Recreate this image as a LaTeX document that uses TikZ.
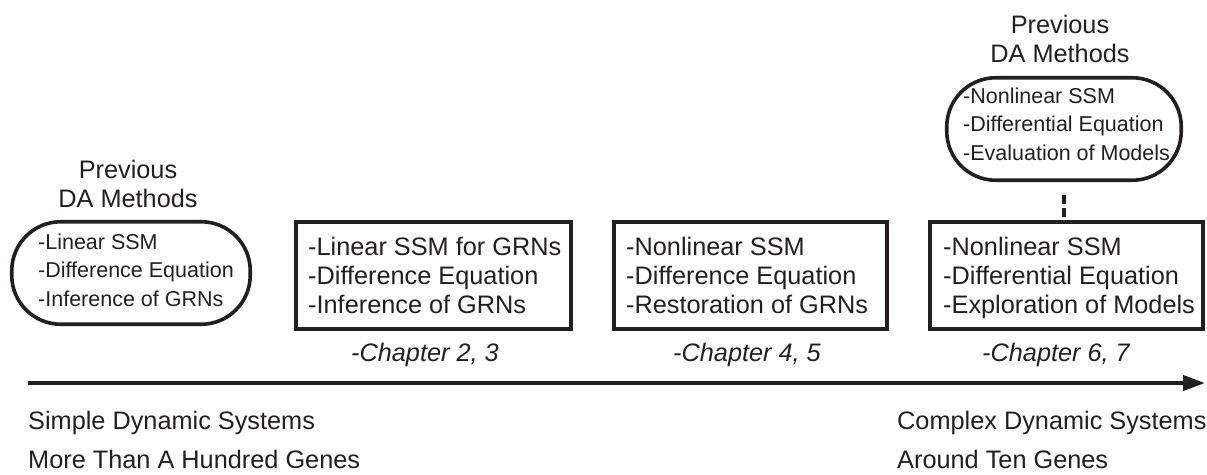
\documentclass[tikz,border=0pt]{standalone}
\usepackage{fontspec}
\setmainfont{Liberation Sans}
\usetikzlibrary{arrows.meta}
\definecolor{ink}{RGB}{35,31,32}
% multi-line block whose reference point is the first baseline
\newcommand\rows[2][l]{\begin{tabular}[t]{@{}#1@{}}#2\end{tabular}}
\tikzset{
  x=1pt, y=-1pt,
  every node/.style={text=ink},
  stepbox/.style={draw=ink, line width=3.6pt, minimum height=107.5pt, inner sep=0pt},
  pillbox/.style={draw=ink, line width=3.6pt, rounded corners=49pt,
                  minimum width=235pt, minimum height=102.5pt, inner sep=0pt},
  bigtext/.style={font=\fontsize{25.3}{29}\selectfont, inner sep=0pt},
  smalltext/.style={font=\fontsize{21.5}{28.5}\selectfont, inner sep=0pt},
  chaptext/.style={font=\fontsize{25.3}{29}\selectfont\itshape, inner sep=0pt, anchor=base},
  axis/.style={draw=ink, line width=4pt, -{Triangle[length=22pt,width=15pt]}},
  linkline/.style={draw=ink, line width=4.5pt,
                   dash pattern=on 0pt off 13pt on 8.5pt off 4.5pt on 8.5pt off 10pt},
}
\begin{document}
\begin{tikzpicture}
\useasboundingbox (0,0) rectangle (1207,474);

% earlier methods (left)
\node[bigtext, anchor=base] (prevA) at (128,178) {\rows[c]{Previous\\DA Methods}};
\node[pillbox, minimum width=238.5pt] (pa) at (131,273) {};
\node[smalltext, anchor=base west] (paT) at (38,249)
  {\rows{-Linear SSM\\-Difference Equation\\-Inference of GRNs}};

% stage boxes
\node[stepbox, minimum width=275.5pt] (b1) at (433.5,275.5) {};
\node[bigtext, anchor=base west] (b1T) at (308,255)
  {\rows{-Linear SSM for GRNs\\-Difference Equation\\-Inference of GRNs}};
\node[chaptext] (c1) at (425,361) {-Chapter 2, 3};

\node[stepbox, minimum width=273.5pt] (b2) at (750.5,275.5) {};
\node[bigtext, anchor=base west] (b2T) at (626,255)
  {\rows{-Nonlinear SSM\\-Difference Equation\\-Restoration of GRNs}};
\node[chaptext] (c2) at (747,361) {-Chapter 4, 5};

\node[stepbox, minimum width=273.5pt] (b3) at (1066.5,275.5) {};
\node[bigtext, anchor=base west] (b3T) at (943,255)
  {\rows{-Nonlinear SSM\\-Differential Equation\\-Exploration of Models}};
\node[chaptext] (c3) at (1056,361) {-Chapter 6, 7};

% earlier methods (top right)
\node[bigtext, anchor=base] (prevB) at (1060,33) {\rows[c]{Previous\\DA Methods}};
\node[pillbox, minimum width=234.5pt] (pb) at (1064,129) {};
\node[smalltext, anchor=base west] (pbT) at (963,103)
  {\rows{-Nonlinear SSM\\-Differential Equation\\-Evaluation of Models}};

\draw[linkline] (pb.south) -- (pb.south |- b3.north);

% complexity axis
\coordinate (axL) at (28,383);
\coordinate (axR) at (1205,383);
\draw[axis] (axL) -- (axR);

\node[bigtext, anchor=base west] (l1) at (28,429) {Simple Dynamic Systems};
\node[bigtext, anchor=base west] (l2) at (28,468) {More Than A Hundred Genes};
\node[bigtext, anchor=base west] (r1) at (897,429) {Complex Dynamic Systems};
\node[bigtext, anchor=base west] (r2) at (897,468) {Around Ten Genes};
\end{tikzpicture}
\end{document}
